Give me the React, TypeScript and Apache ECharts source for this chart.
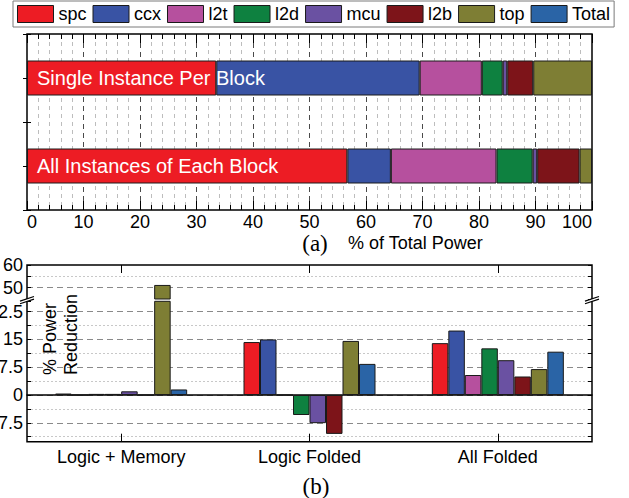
import React, { useEffect, useRef } from 'react';
import * as echarts from 'echarts';

// ---------- data ----------
const blocks = ['spc', 'ccx', 'l2t', 'l2d', 'mcu', 'l2b', 'top'];
const legendNames = ['spc', 'ccx', 'l2t', 'l2d', 'mcu', 'l2b', 'top', 'Total'];
const colors = ['#ED1C24', '#3953A4', '#B6509E', '#0E8140', '#6A51A2', '#7D1419', '#7E7E34', '#2A64A6'];

// (a) % of total power
const breakdownCategories = ['Single Instance Per Block', 'All Instances of Each Block'];
const singleInstance = [33.5, 36.0, 11.0, 3.7, 0.8, 4.6, 10.4];
const allInstances = [56.7, 7.7, 18.7, 6.4, 0.8, 7.5, 2.2];

// (b) % power reduction
const scenarios = ['Logic + Memory', 'Logic Folded', 'All Folded'];
const spcReduction = [0.4, 14.3, 14.0];
const ccxReduction = [0.0, 15.0, 17.4];
const l2tReduction = [0.3, 0.0, 5.4];
const l2dReduction = [0.3, -5.4, 12.6];
const mcuReduction = [1.0, -7.6, 9.4];
const l2bReduction = [0.0, -10.5, 5.0];
const topReduction = [51.2, 14.6, 7.0];
const totalReduction = [1.5, 8.4, 11.7];
const reductions = [spcReduction, ccxReduction, l2tReduction, l2dReduction, mcuReduction, l2bReduction, topReduction, totalReduction];

// ---------- layout ----------
const FONT = "'Liberation Sans', Arial, Helvetica, sans-serif";
const SERIF = "'Liberation Serif', 'Times New Roman', serif";
const LEFT = 27;
const WIDTH = 565;
const UP_TOP = 265;
const UP_MIN = 45;
const UP_MAX = 60;
const UP_PX = 34 / 15;
const LOW_TOP = 301.3;
const LOW_MAX = 25.3;
const LOW_MIN = -11.25;
const MAJ_MIN = -7.5;
const LOW_PX = 3.704;
const FRAME_BOTTOM = 441.7;

const black = '#000';
const majorLine = { color: '#8a8a8a', type: [6, 4], width: 1 };
const minorLine = { color: '#c8c8c8', type: [2, 2], width: 1 };
const barBorder = { borderColor: '#1a1a1a', borderWidth: 1 };

function hiddenCat(gridIndex: number, extra: any = {}) {
  return {
    type: 'category', gridIndex, data: scenarios, boundaryGap: true,
    axisLabel: { show: false }, axisTick: { show: false }, axisLine: { show: false },
    splitLine: { show: false }, ...extra,
  };
}

function valY(gridIndex: number, min: number, max: number, interval: number, position: string, extra: any = {}) {
  return {
    type: 'value', gridIndex, min, max, interval, position,
    axisLine: { show: false },
    axisTick: { show: true, inside: true, length: 4, lineStyle: { color: black } },
    axisLabel: { show: false },
    splitLine: { show: false },
    ...extra,
  };
}

const App: React.FC = () => {
  const ref = useRef<HTMLDivElement>(null);

  useEffect(() => {
    if (!ref.current) return;
    const chart = echarts.init(ref.current, undefined, { renderer: 'svg' });

    const yCats = [' ', breakdownCategories[0], '  ', breakdownCategories[1], '   '];

    const breakdownSeries = blocks.map((name, i) => ({
      type: 'bar', name, xAxisIndex: 0, yAxisIndex: 0, stack: 'share', barWidth: 35,
      z: i === 0 ? 3 : 2, silent: true,
      itemStyle: { color: colors[i], ...barBorder },
      data: [null, singleInstance[i], null, allInstances[i], null],
      label: i === 0
        ? { show: true, position: 'insideLeft', distance: 10, color: '#fff', fontSize: 20, fontFamily: FONT, formatter: (p: any) => p.name }
        : { show: false },
    }));

    const reductionSeries: any[] = [];
    legendNames.forEach((name, i) => {
      const common = {
        type: 'bar', name, barWidth: 16.5, barGap: '0%', silent: true,
        itemStyle: { color: colors[i], ...barBorder }, data: reductions[i],
      };
      reductionSeries.push({ ...common, xAxisIndex: 6, yAxisIndex: 7 });
      reductionSeries.push({ ...common, xAxisIndex: 4, yAxisIndex: 3 });
    });

    const gridMid = (UP_TOP + (UP_MAX - UP_MIN) * UP_PX + LOW_TOP) / 2;
    const breakMark = (x: number) => {
      const dx = 7, slope = 0.33, h = 1.3;
      return [
        { type: 'polygon', z: 100, shape: { points: [[x - dx, gridMid + h + dx * slope], [x + dx, gridMid + h - dx * slope], [x + dx, gridMid - h - dx * slope], [x - dx, gridMid - h + dx * slope]] }, style: { fill: '#fff' } },
        { type: 'line', z: 101, shape: { x1: x - dx, y1: gridMid + h + dx * slope, x2: x + dx, y2: gridMid + h - dx * slope }, style: { stroke: black, lineWidth: 1.2 } },
        { type: 'line', z: 101, shape: { x1: x - dx, y1: gridMid - h + dx * slope, x2: x + dx, y2: gridMid - h - dx * slope }, style: { stroke: black, lineWidth: 1.2 } },
      ];
    };

    const lowLabel = (v: number) => {
      const r = v / 7.5;
      return Math.abs(r - Math.round(r)) < 1e-6 ? String(v) : '';
    };

    const option: any = {
      animation: false,
      backgroundColor: '#fff',
      textStyle: { fontFamily: FONT, color: black },
      legend: {
        left: 13, top: 1, orient: 'horizontal', icon: 'rect', itemWidth: 36, itemHeight: 17, itemGap: 6,
        padding: [4, 4, 4, 4], borderColor: '#7a7a7a', borderWidth: 1, selectedMode: false,
        textStyle: { fontSize: 18, fontFamily: FONT, color: black },
        itemStyle: { borderColor: '#1a1a1a', borderWidth: 1 },
        data: legendNames,
      },
      grid: [
        { left: LEFT, top: 34, width: WIDTH, height: 176, show: true, borderColor: black, borderWidth: 1.5, outerBoundsMode: 'none' },
        { left: LEFT, top: UP_TOP, width: WIDTH, height: FRAME_BOTTOM - UP_TOP, show: true, borderColor: black, borderWidth: 1.5, outerBoundsMode: 'none' },
        { left: LEFT, top: UP_TOP, width: WIDTH, height: (UP_MAX - UP_MIN) * UP_PX, outerBoundsMode: 'none' },
        { left: LEFT, top: UP_TOP, width: WIDTH, height: (UP_MAX - 50) * UP_PX, outerBoundsMode: 'none' },
        { left: LEFT, top: LOW_TOP, width: WIDTH, height: (LOW_MAX - LOW_MIN) * LOW_PX, outerBoundsMode: 'none' },
        { left: LEFT, top: LOW_TOP, width: WIDTH, height: (LOW_MAX - MAJ_MIN) * LOW_PX, outerBoundsMode: 'none' },
      ],
      xAxis: [
        {
          type: 'value', gridIndex: 0, min: 0, max: 100, interval: 10, position: 'bottom',
          axisLine: { show: false },
          axisTick: { show: true, inside: true, length: 9, lineStyle: { color: black } },
          minorTick: { show: true, splitNumber: 5, length: 5, lineStyle: { color: black } },
          axisLabel: { fontSize: 18, color: black, fontFamily: FONT, margin: 3, alignMinLabel: 'left', alignMaxLabel: 'right' },
          splitLine: { show: true, showMinLine: false, showMaxLine: false, lineStyle: { color: '#4a4a4a', type: [5, 4], width: 1 } },
          minorSplitLine: { show: true, lineStyle: { color: '#bdbdbd', type: [4, 4], width: 1 } },
        },
        {
          type: 'value', gridIndex: 0, min: 0, max: 100, interval: 10, position: 'top',
          axisLine: { show: false },
          axisTick: { show: true, inside: true, length: 9, lineStyle: { color: black } },
          minorTick: { show: true, splitNumber: 5, length: 5, lineStyle: { color: black } },
          axisLabel: { show: false }, splitLine: { show: false },
        },
        {
          type: 'category', gridIndex: 1, data: scenarios, position: 'bottom', boundaryGap: true,
          axisLine: { show: false },
          axisTick: { show: true, inside: true, alignWithLabel: true, length: 8, lineStyle: { color: black } },
          axisLabel: { fontSize: 18, color: black, fontFamily: FONT, margin: 6 },
          splitLine: { show: false },
        },
        {
          type: 'category', gridIndex: 1, data: scenarios, position: 'top', boundaryGap: true,
          axisLine: { show: false },
          axisTick: { show: true, inside: true, alignWithLabel: true, length: 8, lineStyle: { color: black } },
          axisLabel: { show: false }, splitLine: { show: false },
        },
        hiddenCat(2),
        hiddenCat(3),
        hiddenCat(4, { z: 1, axisLine: { show: true, onZero: true, lineStyle: { color: black, width: 1.5 } } }),
        hiddenCat(5),
      ],
      yAxis: [
        {
          type: 'category', gridIndex: 0, data: yCats, inverse: true, boundaryGap: false, position: 'left',
          axisLine: { show: false }, axisLabel: { show: false },
          axisTick: { show: true, inside: true, length: 4, lineStyle: { color: black } },
          splitLine: { show: false },
        },
        {
          type: 'category', gridIndex: 0, data: yCats, inverse: true, boundaryGap: false, position: 'right',
          axisLine: { show: false }, axisLabel: { show: false },
          axisTick: { show: true, inside: true, length: 4, lineStyle: { color: black } },
          splitLine: { show: false },
        },
        { type: 'value', gridIndex: 1, min: 0, max: 1, show: false },
        valY(2, UP_MIN, UP_MAX, 10, 'left', { splitLine: { show: true, showMinLine: false, showMaxLine: false, lineStyle: minorLine } }),
        valY(2, UP_MIN, UP_MAX, 10, 'right'),
        valY(3, 50, UP_MAX, 10, 'left', {
          axisLabel: { show: true, fontSize: 18, color: black, fontFamily: FONT, margin: 4 },
          splitLine: { show: true, showMinLine: true, showMaxLine: false, lineStyle: majorLine },
        }),
        valY(3, 50, UP_MAX, 10, 'right'),
        valY(4, LOW_MIN, LOW_MAX, 7.5, 'left', { splitLine: { show: true, showMinLine: true, showMaxLine: false, lineStyle: minorLine } }),
        valY(4, LOW_MIN, LOW_MAX, 7.5, 'right'),
        valY(5, MAJ_MIN, LOW_MAX, 7.5, 'left', {
          axisLabel: { show: true, fontSize: 18, color: black, fontFamily: FONT, margin: 4, formatter: lowLabel },
          splitLine: { show: true, showMinLine: true, showMaxLine: false, lineStyle: majorLine },
        }),
        valY(5, MAJ_MIN, LOW_MAX, 7.5, 'right'),
      ],
      series: [...breakdownSeries, ...reductionSeries],
      graphic: [
        { type: 'text', z: 100, x: 315, y: 243, style: { text: '(a)', fill: black, fontSize: 23, fontFamily: SERIF, textAlign: 'center', textVerticalAlign: 'middle' } },
        { type: 'text', z: 100, x: 348, y: 243, style: { text: '% of Total Power', fill: black, fontSize: 18, fontFamily: FONT, textAlign: 'left', textVerticalAlign: 'middle' } },
        { type: 'text', z: 100, x: 316, y: 486, style: { text: '(b)', fill: black, fontSize: 23, fontFamily: SERIF, textAlign: 'center', textVerticalAlign: 'middle' } },
        { type: 'text', z: 100, x: 39, y: 375, rotation: Math.PI / 2, style: { text: '% Power\nReduction', fill: black, fontSize: 18, lineHeight: 21, fontFamily: FONT, textAlign: 'left', textVerticalAlign: 'top' } },
        ...breakMark(LEFT),
        ...breakMark(LEFT + WIDTH),
      ],
    };

    chart.setOption(option);
    return () => chart.dispose();
  }, []);

  return <div ref={ref} style={{ position: 'absolute', left: 0, top: 0, width: 629, height: 498, background: '#fff' }} />;
};

export default App;
